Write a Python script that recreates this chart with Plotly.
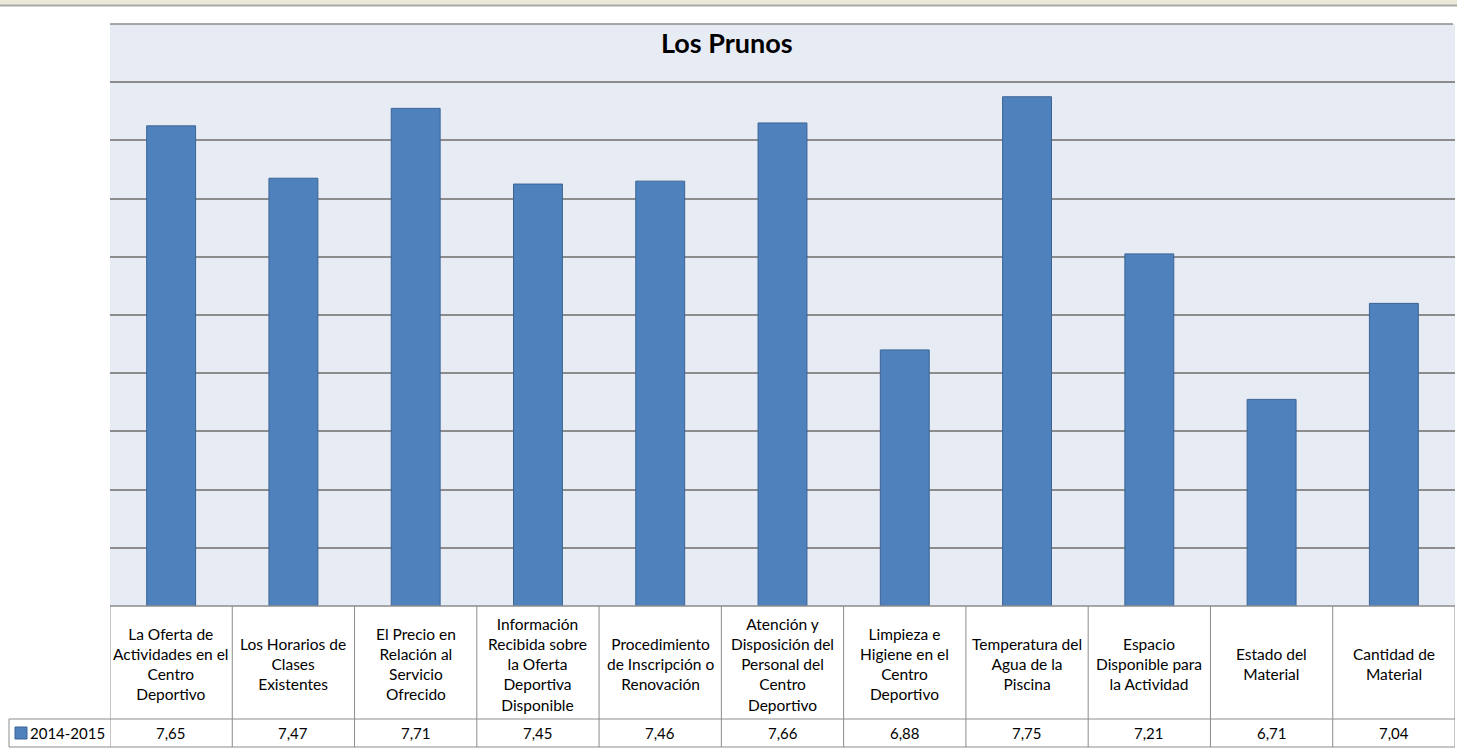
import plotly.graph_objects as go

categories = [
    "La Oferta de<br>Actividades en el<br>Centro<br>Deportivo",
    "Los Horarios de<br>Clases<br>Existentes",
    "El Precio en<br>Relación al<br>Servicio<br>Ofrecido",
    "Información<br>Recibida sobre<br>la Oferta<br>Deportiva<br>Disponible",
    "Procedimiento<br>de Inscripción o<br>Renovación",
    "Atención y<br>Disposición del<br>Personal del<br>Centro<br>Deportivo",
    "Limpieza e<br>Higiene en el<br>Centro<br>Deportivo",
    "Temperatura del<br>Agua de la<br>Piscina",
    "Espacio<br>Disponible para<br>la Actividad",
    "Estado del<br>Material",
    "Cantidad de<br>Material",
]
values_2014_2015 = [7.65, 7.47, 7.71, 7.45, 7.46, 7.66, 6.88, 7.75, 7.21, 6.71, 7.04]
series_name = "2014-2015"
title_text = "Los Prunos"

W, H = 1457, 748
ML, MR, MT, MB = 110, 2, 24, 142
PW = W - ML - MR
PH = H - MT - MB
PLOT_BOTTOM = H - MB


def yp(py):
    return (PLOT_BOTTOM - py) / PH


def xp(px):
    return (px - ML) / PW


FONT = "Lato, Calibri, 'Noto Sans', sans-serif"
LINE = "#8c8c8c"
n = len(categories)
xs = list(range(n))

fig = go.Figure()
fig.add_trace(go.Bar(
    x=xs, y=values_2014_2015, name=series_name,
    marker=dict(color="#4F81BD", line=dict(color="#3B6495", width=1)),
    width=0.4, hoverinfo="skip",
))

shapes = []
annotations = []

# top window strip
shapes.append(dict(type="rect", xref="paper", yref="paper", x0=xp(0), x1=xp(W),
                   y0=yp(5), y1=yp(0), fillcolor="#ECE9D8", line=dict(width=0), layer="above"))
shapes.append(dict(type="line", xref="paper", yref="paper", x0=xp(0), x1=xp(W),
                   y0=yp(5.5), y1=yp(5.5), line=dict(color="#A8A8A8", width=2)))
# top border of plot area
shapes.append(dict(type="line", xref="paper", yref="paper", x0=0, x1=xp(1453),
                   y0=1, y1=1, line=dict(color=LINE, width=1.5)))

# table lines
y_top = yp(606)
y_mid = yp(719)
y_bot = yp(747)
shapes.append(dict(type="line", xref="paper", yref="paper", x0=0, x1=1, y0=y_top, y1=y_top,
                   line=dict(color=LINE, width=1.5)))
for yy in (y_mid, y_bot):
    shapes.append(dict(type="line", xref="paper", yref="paper", x0=xp(9), x1=1, y0=yy, y1=yy,
                       line=dict(color=LINE, width=1)))
shapes.append(dict(type="line", xref="paper", yref="paper", x0=xp(9), x1=xp(9), y0=y_mid, y1=y_bot,
                   line=dict(color=LINE, width=1)))
for i in range(n + 1):
    shapes.append(dict(type="line", xref="x", yref="paper", x0=i - 0.5, x1=i - 0.5,
                       y0=y_top, y1=y_bot, line=dict(color=LINE, width=1)))

# legend key
shapes.append(dict(type="rect", xref="paper", yref="paper", x0=xp(15), x1=xp(27),
                   y0=yp(739), y1=yp(727), fillcolor="#4F81BD",
                   line=dict(color="#3B6495", width=1)))
annotations.append(dict(xref="paper", yref="paper", x=xp(28), y=yp(733), text=series_name,
                        showarrow=False, xanchor="left", yanchor="middle",
                        font=dict(family=FONT, size=15, color="#000")))

for i, (c, v) in enumerate(zip(categories, values_2014_2015)):
    annotations.append(dict(xref="x", yref="paper", x=i, y=yp(664), text=c, showarrow=False,
                            xanchor="center", yanchor="middle",
                            font=dict(family=FONT, size=15.5, color="#000")))
    annotations.append(dict(xref="x", yref="paper", x=i, y=yp(733),
                            text=f"{v:.2f}".replace(".", ","), showarrow=False,
                            xanchor="center", yanchor="middle",
                            font=dict(family=FONT, size=15, color="#000")))

annotations.append(dict(xref="paper", yref="paper", x=xp(727), y=yp(42), text=f"<b>{title_text}</b>",
                        showarrow=False, xanchor="center", yanchor="middle",
                        font=dict(family=FONT, size=27, color="#000")))

fig.update_layout(
    width=W, height=H,
    margin=dict(l=ML, r=MR, t=MT, b=MB, pad=0),
    paper_bgcolor="white",
    plot_bgcolor="#E7EBF4",
    showlegend=False,
    shapes=shapes,
    annotations=annotations,
    xaxis=dict(range=[-0.5, n - 0.5], showticklabels=False, showgrid=False, zeroline=False,
               ticks="", fixedrange=True),
    yaxis=dict(range=[6, 8], dtick=0.2, tick0=6, showticklabels=False, showgrid=True,
               gridcolor="#8c8c8c", gridwidth=1.5, zeroline=False, ticks="", fixedrange=True),
)

fig.write_html(
    "out.html",
    config={"displayModeBar": False},
    post_script="document.body.style.margin='0';document.body.style.overflow='hidden';",
)
